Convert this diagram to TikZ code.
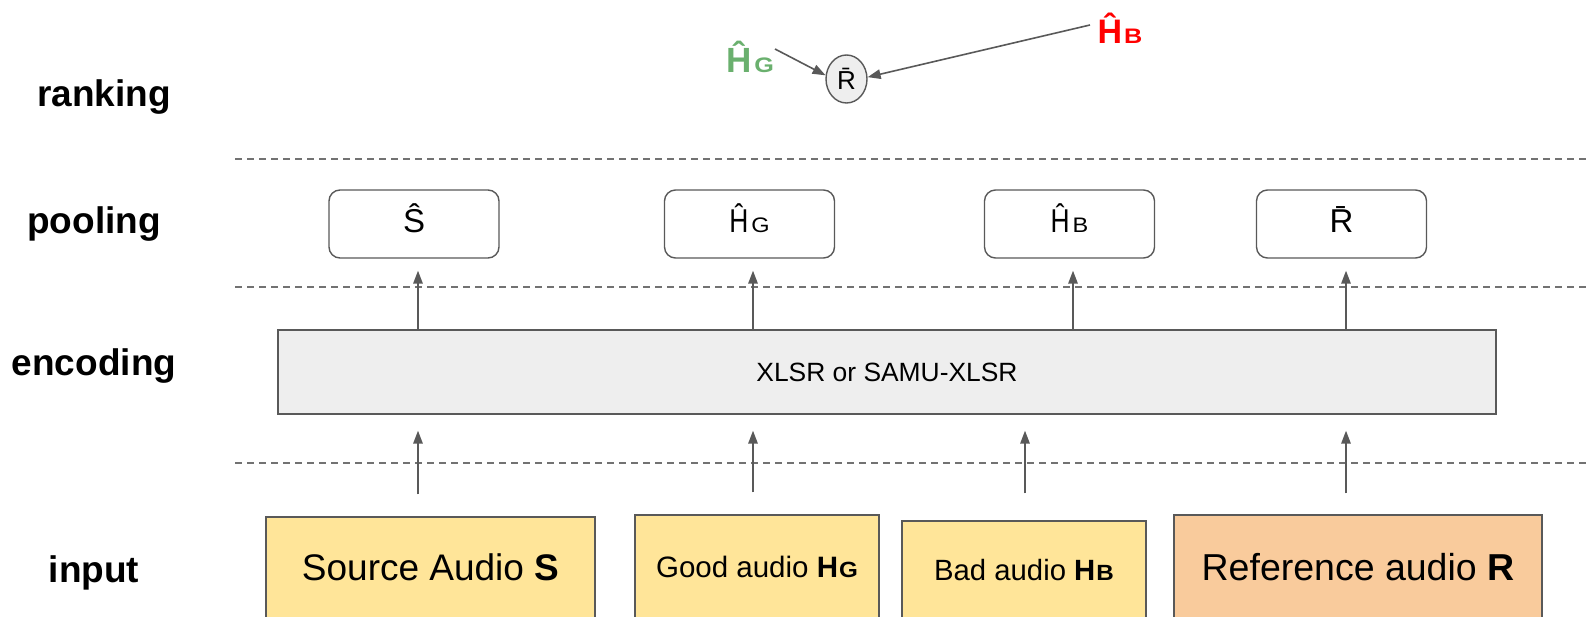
\documentclass[tikz,border=0pt]{standalone}
\usepackage{fontspec}
\setmainfont{Liberation Sans}
\usetikzlibrary{arrows.meta,shapes.geometric}
\definecolor{edgegray}{HTML}{595959}
\definecolor{boxgray}{HTML}{EEEEEE}
\definecolor{inyellow}{HTML}{FFE599}
\definecolor{inorange}{HTML}{F9CB9C}
\definecolor{goodgreen}{RGB}{106,176,110}
\newcommand{\fs}[1]{\fontsize{#1}{#1}\selectfont}
\newcommand{\Rbar}{R\char"0304}
% hatted H followed by a small capital
\newcommand{\hatH}[2]{\scalebox{0.8}[1]{Ĥ}\hspace{3pt}{\fs{#1}\scalebox{1.12}[1]{#2}}}
\tikzset{
  layerlabel/.style={font=\fs{37}\bfseries, anchor=center},
  sep/.style={draw=edgegray!85, line width=1.4pt, dash pattern=on 7pt off 5pt},
  poolbox/.style={draw=edgegray, line width=1.4pt, rounded corners=11pt, fill=white,
    minimum width=170pt, minimum height=68pt, inner sep=0pt, font=\fs{33},
    text height=18pt, text depth=0pt},
  inbox/.style={draw=edgegray, line width=1.4pt, inner sep=0pt, text depth=0pt},
  arr/.style={draw=edgegray, line width=1.6pt, -{Triangle[length=13pt,width=9.5pt]}},
}
\begin{document}
\begin{tikzpicture}[x=1pt,y=-1pt]
\useasboundingbox (0,0) rectangle (1589,617);
\clip (0,0) rectangle (1589,617);

% layer names
\node[layerlabel] (lrank) at (104,97) {ranking};
\node[layerlabel] (lpool) at (94,224) {pooling};
\node[layerlabel] (lenc)  at (94,366) {encoding};
\node[layerlabel] (linp)  at (94,573) {input};

% layer separators
\coordinate (d1a) at (235,159); \coordinate (d1b) at (1589,159);
\coordinate (d2a) at (235,287); \coordinate (d2b) at (1589,287);
\coordinate (d3a) at (235,463); \coordinate (d3b) at (1589,463);
\draw[sep] (d1a) -- (d1b);
\draw[sep] (d2a) -- (d2b);
\draw[sep] (d3a) -- (d3b);

% ranking
\node[draw=edgegray, line width=1.4pt, fill=boxgray, ellipse, minimum width=41pt,
      minimum height=48pt, inner sep=0pt, font=\fs{26}] (rank) at (846.5,79) {\Rbar};
\node[font=\fs{35}\bfseries, text=goodgreen, anchor=base] (hg) at (750,73)
  {Ĥ\hspace{3pt}{\fs{21}\scalebox{1.2}[1]{G}}};
\node[font=\fs{34}\bfseries, text=red, anchor=base] (hb) at (1120,44)
  {Ĥ\hspace{2pt}{\fs{21}\scalebox{1.2}[1]{B}}};
\coordinate (hgtail) at (775,49);
\coordinate (hbtail) at (1090,25);
\draw[arr] (hgtail) -- (rank.170);
\draw[arr] (hbtail) -- (rank.5);

% pooling
\node[poolbox] (pS)  at (414,224)    {Ŝ};
\node[poolbox] (pHG) at (749.5,224)  {\hatH{21}{G}};
\node[poolbox] (pHB) at (1069.5,224) {\hatH{21}{B}};
\node[poolbox] (pR)  at (1341.5,224) {\Rbar};

% encoding
\node[draw=edgegray, line width=1.4pt, fill=boxgray, minimum width=1218pt,
      minimum height=84pt, inner sep=0pt, font=\fs{26.4}] (enc) at (887,372) {XLSR or SAMU-XLSR};

% inputs
\node[inbox, fill=inyellow, minimum width=329pt, minimum height=102pt, font=\fs{37},
      text height=24pt] (iS) at (430.5,568) {Source Audio \textbf{S}};
\node[inbox, fill=inyellow, minimum width=244pt, minimum height=104pt, font=\fs{29.5},
      text height=20pt] (iHG) at (757,567) {Good audio \textbf{H\hspace{1pt}{\fs{22}\scalebox{1.1}[1]{G}}}};
\node[inbox, fill=inyellow, minimum width=244pt, minimum height=98pt, font=\fs{29.3},
      text height=20pt] (iHB) at (1024,570) {Bad audio \textbf{H\hspace{1pt}{\fs{22}\scalebox{1.1}[1]{B}}}};
\node[inbox, fill=inorange, minimum width=368pt, minimum height=104pt, font=\fs{37.5},
      text height=26pt] (iR) at (1358,567) {Reference audio \textbf{R}};

% arrow columns
\coordinate (c1) at (418,0);  \coordinate (c2) at (753,0);
\coordinate (c3) at (1025,0); \coordinate (c4) at (1346,0);
\coordinate (c3t) at (1073,0);

\draw[arr, shorten <=22pt, shorten >=16pt] (c1 |- iS.north)  -- (c1 |- enc.south);
\draw[arr, shorten <=22pt, shorten >=16pt] (c2 |- iHG.north) -- (c2 |- enc.south);
\draw[arr, shorten <=27pt, shorten >=16pt] (c3 |- iHB.north) -- (c3 |- enc.south);
\draw[arr, shorten <=21pt, shorten >=16pt] (c4 |- iR.north)  -- (c4 |- enc.south);

\draw[arr, shorten <=-1pt, shorten >=12pt] (c1 |- enc.north)  -- (c1 |- pS.south);
\draw[arr, shorten <=-1pt, shorten >=12pt] (c2 |- enc.north)  -- (c2 |- pHG.south);
\draw[arr, shorten <=-1pt, shorten >=12pt] (c3t |- enc.north) -- (c3t |- pHB.south);
\draw[arr, shorten <=-1pt, shorten >=12pt] (c4 |- enc.north)  -- (c4 |- pR.south);
\end{tikzpicture}
\end{document}
